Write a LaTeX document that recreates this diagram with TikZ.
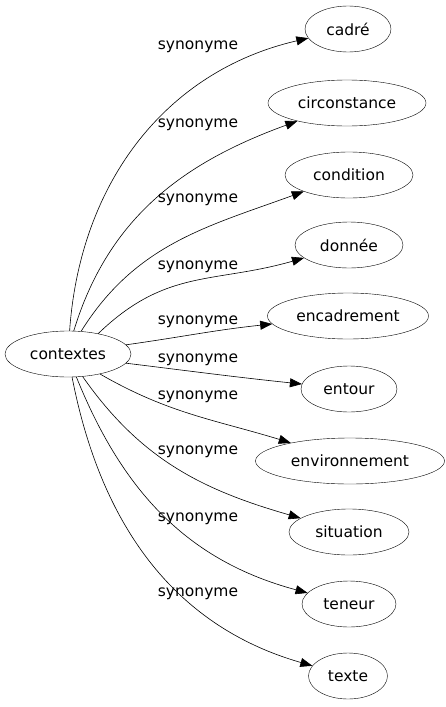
\documentclass[tikz,border=0pt]{standalone}
\usepackage{fontspec}
\setmainfont{DejaVu Sans}
\usetikzlibrary{shapes.geometric,arrows.meta}

\begin{document}
\begin{tikzpicture}[x=1pt,y=1pt,
  word/.style={draw, ellipse, minimum height=46pt, inner xsep=4pt, inner ysep=0pt, font=\fontsize{15.5}{18}\selectfont},
  lab/.style={inner sep=0pt, font=\fontsize{15.5}{18}\selectfont},
  syn/.style={-{Triangle[length=12pt,width=9pt]}, semithick}]
\useasboundingbox (0,0) rectangle (446,-707);
% source
\node[word, minimum width=126pt] (ctx) at (68,-354) {contextes};
% targets
\node[word, minimum width=86pt] (cadre) at (348,-29) {cadré};
\node[word, minimum width=158pt] (circ) at (347,-103) {circonstance};
\node[word, minimum width=128pt] (cond) at (349,-175) {condition};
\node[word, minimum width=108pt] (donnee) at (349,-245) {donnée};
\node[word, minimum width=161pt] (encadr) at (348,-316) {encadrement};
\node[word, minimum width=96pt] (entour) at (349,-389) {entour};
\node[word, minimum width=189pt] (envir) at (350,-461) {environnement};
\node[word, minimum width=120pt] (situ) at (349,-532) {situation};
\node[word, minimum width=94pt] (teneur) at (349,-604) {teneur};
\node[word, minimum width=79pt] (texte) at (348,-676) {texte};
% labels
\node[lab] (l1) at (198,-47) {synonyme};
\node[lab] (l2) at (198,-125) {synonyme};
\node[lab] (l3) at (198,-200) {synonyme};
\node[lab] (l4) at (198,-267) {synonyme};
\node[lab] (l5) at (198,-322) {synonyme};
\node[lab] (l6) at (198,-360) {synonyme};
\node[lab] (l7) at (198,-397) {synonyme};
\node[lab] (l8) at (198,-452) {synonyme};
\node[lab] (l9) at (198,-519) {synonyme};
\node[lab] (l10) at (198,-594) {synonyme};
% edges
\draw[syn] (ctx.86) to[out=86,in=193] (cadre);
\draw[syn] (ctx.76) to[out=73,in=200] (circ);
\draw[syn] (ctx.60) to[out=58,in=200] (cond);
\draw[syn] (ctx.34) to[out=44,in=196,looseness=1.1] (donnee);
\draw[syn] (ctx.9) to[out=8,in=186] (encadr);
\draw[syn] (ctx.-9) to[out=-7,in=174] (entour);
\draw[syn] (ctx.-32) to[out=-30,in=163] (envir);
\draw[syn] (ctx.-57) to[out=-55,in=164] (situ);
\draw[syn] (ctx.-70) to[out=-68,in=165] (teneur);
\draw[syn] (ctx.-80) to[out=-79,in=164] (texte);
\end{tikzpicture}
\end{document}
